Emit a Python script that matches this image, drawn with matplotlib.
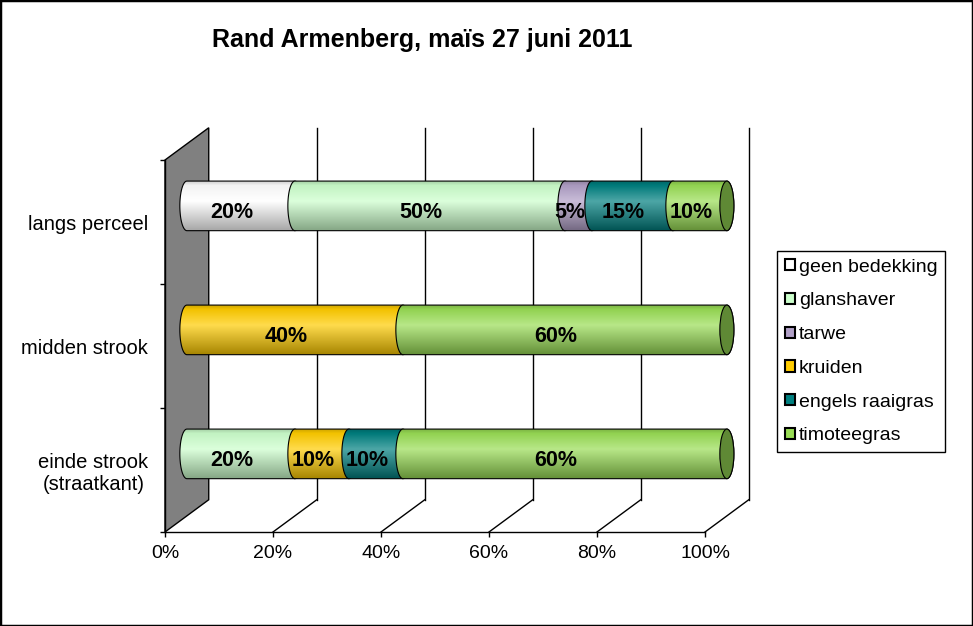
import numpy as np
import matplotlib
matplotlib.use("Agg")
import matplotlib.pyplot as plt
from matplotlib.patches import PathPatch, Polygon, Ellipse, Patch, Rectangle
from matplotlib.path import Path
from matplotlib.colors import to_rgb

plt.rcParams['font.family'] = ['Liberation Sans', 'DejaVu Sans']

# data (bottom row first)
categories = ["einde strook\n(straatkant)", "midden strook", "langs perceel"]
series = ["geen bedekking", "glanshaver", "tarwe", "kruiden", "engels raaigras", "timoteegras"]
geen_bedekking = [0, 0, 20]
glanshaver = [20, 0, 50]
tarwe = [0, 0, 5]
kruiden = [10, 40, 0]
engels_raaigras = [10, 0, 15]
timoteegras = [60, 60, 10]
values = [geen_bedekking, glanshaver, tarwe, kruiden, engels_raaigras, timoteegras]
colors = ["#FFFFFF", "#CCFFCC", "#B1A0C7", "#FFCC00", "#008080", "#99DD55"]
x_ticks = [0, 20, 40, 60, 80, 100]

DX, DY = 8.1, 0.26   # depth of the 3d box, in data units
BAR_H = 0.4
CAP_W = 1.3


def gradient(c):
    c = np.array(to_rgb(c))
    t = np.linspace(0, 1, 64)
    stops = [0, 0.08, 0.4, 1]
    cols = [c * 0.82, c * 0.95, c + (1 - c) * 0.3, c * 0.65]
    img = np.zeros((64, 2, 3))
    for ch in range(3):
        img[:, :, ch] = np.interp(t, stops, [cc[ch] for cc in cols])[:, None]
    return np.clip(img, 0, 1)


def segment_path(x0, x1, yc):
    hh = BAR_H / 2
    th = np.linspace(0, np.pi, 40)
    left = np.column_stack([x0 - CAP_W * np.sin(th), yc + hh * np.cos(th)])
    right = np.column_stack([x1 + CAP_W * np.sin(th), yc - hh * np.cos(th)])
    verts = np.vstack([left, right, left[:1]])
    return Path(verts, closed=True)


fig = plt.figure(figsize=(9.73, 6.26), dpi=100)
ax = fig.add_axes([165 / 973, 94 / 626, 540 / 973, 372 / 626])
ax.patch.set_visible(False)

# walls
wall = Polygon([(0, 0), (DX, DY), (DX, 3 + DY), (0, 3)], facecolor="#808080",
               edgecolor="black", lw=1, clip_on=False, zorder=1)
ax.add_patch(wall)
for x in x_ticks[1:]:
    ax.plot([x + DX, x + DX], [DY, 3 + DY], color="black", lw=1, clip_on=False, zorder=1)
    ax.plot([x, x + DX], [0, DY], color="black", lw=1, clip_on=False, zorder=1)

# cylinders
z = 3
for i in range(len(categories)):
    left = 0
    yc = i + 0.5 + DY / 2
    last = None
    for k, vals in enumerate(values):
        w = vals[i]
        if w == 0:
            continue
        x0 = left + DX / 2
        x1 = left + w + DX / 2
        patch = PathPatch(segment_path(x0, x1, yc), facecolor="none", edgecolor="black",
                          lw=0.8, clip_on=False, zorder=z + 1)
        ax.add_patch(patch)
        im = ax.imshow(gradient(colors[k]), extent=[x0 - CAP_W, x1 + CAP_W, yc - BAR_H / 2, yc + BAR_H / 2],
                       aspect="auto", interpolation="bilinear", zorder=z, clip_path=patch)
        im.set_clip_box(fig.bbox)
        ax.annotate(f"{w}%", xy=(left + w / 2, i + 0.5), xytext=(13, 9), textcoords="offset pixels",
                    ha="center", va="center", fontsize=15.5, fontweight="bold", zorder=50)
        z += 2
        left += w
        last = (x1, colors[k])
    cap_c = np.array(to_rgb(last[1])) * 0.62
    ax.add_patch(Ellipse((last[0], yc), 2 * CAP_W, BAR_H, facecolor=cap_c, edgecolor="black",
                         lw=0.8, clip_on=False, zorder=z))
    z += 2

ax.set_xlim(0, 100)
ax.set_ylim(0, 3)
for s in ["top", "right"]:
    ax.spines[s].set_visible(False)
for s in ["left", "bottom"]:
    ax.spines[s].set_linewidth(1)
    ax.spines[s].set_zorder(2)

ax.set_xticks(x_ticks)
ax.set_xticklabels([f"{t}%" for t in x_ticks])
ax.tick_params(axis="x", length=3.6, width=1, pad=6, labelsize=14)
ax.set_yticks([0, 1, 2, 3])
ax.set_yticklabels([])
ax.set_yticks([0.5, 1.5, 2.5], minor=True)
ax.set_yticklabels(categories, minor=True)
ax.tick_params(axis="y", which="major", length=3.6, width=1)
ax.tick_params(axis="y", which="minor", length=0, pad=12, labelsize=14.5)
for t in ax.get_yticklabels(minor=True):
    t.set_multialignment("center")

fig.text(422 / 973, 1 - 40 / 626, "Rand Armenberg, maïs 27 juni 2011", ha="center", va="center",
         fontsize=18, fontweight="bold")

handles = [Patch(facecolor=c, edgecolor="black", lw=1.5, label=s) for s, c in zip(series, colors)]
leg = fig.legend(handles=handles, loc="upper left", bbox_to_anchor=(777 / 973, 1 - 251 / 626),
                 frameon=True, fancybox=False, edgecolor="black", framealpha=1, fontsize=14,
                 handlelength=0.5, handleheight=0.5, handletextpad=0.22, labelspacing=0.86,
                 borderpad=0.4, borderaxespad=0)
leg.get_frame().set_linewidth(1)

fig.add_artist(Rectangle((0, 0), 1, 1, transform=fig.transFigure, fill=False,
                         edgecolor="black", lw=2.5))

fig.savefig("out.png", dpi=100)
